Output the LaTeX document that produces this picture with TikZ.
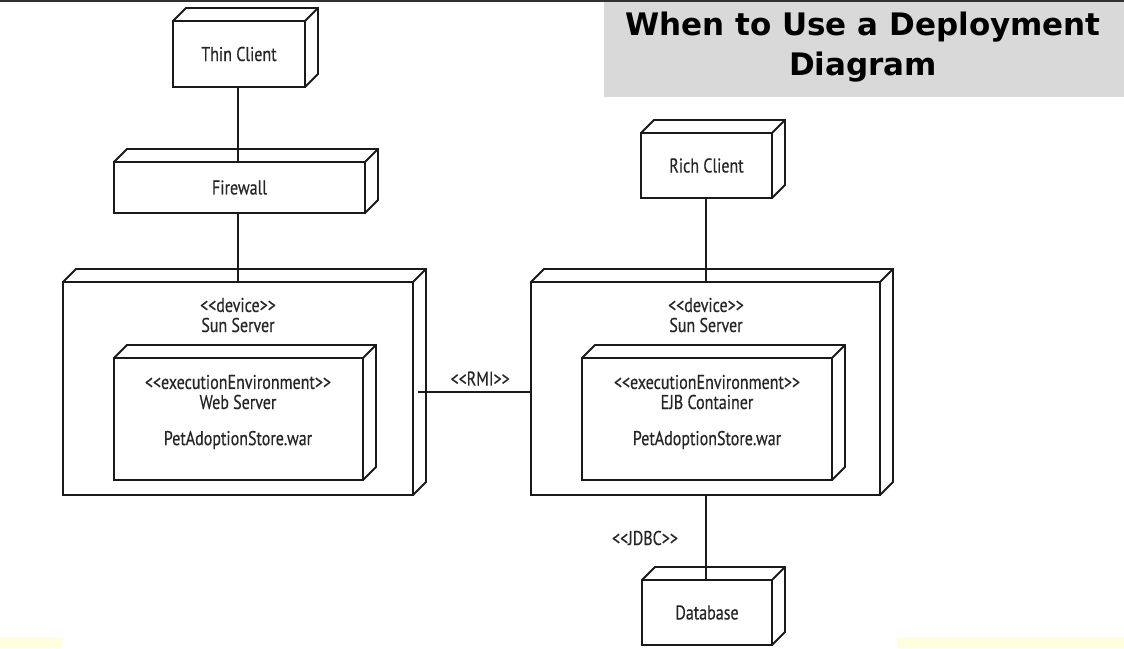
\documentclass[tikz,border=0pt]{standalone}
\usepackage{fontspec}
\usetikzlibrary{calc}
\newfontfamily\diagfont[FakeStretch=0.8,FakeBold=0.4]{PT Sans}
\newfontfamily\titlefont{DejaVu Sans}
\definecolor{ink}{HTML}{1A1A1A}
\definecolor{txt}{HTML}{262626}
\definecolor{titlegray}{HTML}{D9D9D9}
\definecolor{slideyellow}{HTML}{FFFFDC}
\begin{document}
\begin{tikzpicture}[x=1pt,y=-1pt,
  box/.style={draw=ink, line width=1.8pt, rectangle, inner sep=0pt, outer sep=0pt},
  boxline/.style={draw=ink, line width=1.8pt, line join=miter},
  conn/.style={draw=ink, line width=2.8pt},
  lbl/.style={font=\diagfont\fontsize{20}{20}\selectfont, text=txt, inner sep=0pt, align=center}]
\useasboundingbox (0,0) rectangle (1124,648);
% slide background pieces
\fill[slideyellow] (0,637) rectangle (62,648);
\fill[slideyellow] (897,637) rectangle (1124,648);
\fill[ink!90] (0,0) rectangle (1124,1.6);
% title
\fill[titlegray] (604,1.6) rectangle (1124,97);
\node[font=\titlefont\bfseries\fontsize{31}{40}\selectfont, align=center, inner sep=0pt] (title) at (863,47) {When to Use a Deployment\\Diagram};
% nodes
\node[box, minimum width=132pt, minimum height=66pt] (thin) at (239,54) {};
\node[box, minimum width=251pt, minimum height=51pt] (fw) at (239.5,187.5) {};
\node[box, minimum width=350pt, minimum height=213pt] (ls) at (238,388.5) {};
\node[box, minimum width=249pt, minimum height=122pt] (web) at (238.5,419) {};
\node[box, minimum width=349pt, minimum height=213pt] (rs) at (705.5,388.5) {};
\node[box, minimum width=250pt, minimum height=122pt] (ejb) at (707,419) {};
\node[box, minimum width=131pt, minimum height=65pt] (rich) at (706.5,165.5) {};
\node[box, minimum width=130pt, minimum height=65pt] (db) at (707,612.5) {};
\foreach \n in {thin,fw,ls,web,rs,ejb,rich,db}{
  \draw[boxline] (\n.north west) -- ++(13,-13) -- ($(\n.north east)+(13,-13)$) -- ($(\n.south east)+(13,-13)$) -- (\n.south east)
    (\n.north east) -- ++(13,-13);
}
% texts
\node[lbl] (thintxt) at (thin) {Thin Client};
\node[lbl] (fwtxt) at (fw) {Firewall};
\node[lbl] (richtxt) at (rich) {Rich Client};
\node[lbl] (dbtxt) at (db) {Database};
\node[lbl] (lsdev) at (238,305) {{<}{<}device{>}{>}};
\node[lbl] (lsname) at (238,325) {Sun Server};
\node[lbl] (webst) at (238,382) {{<}{<}executionEnvironment{>}{>}};
\node[lbl] (webname) at (238,402) {Web Server};
\node[lbl] (webwar) at (238,440) {PetAdoptionStore.war};
\node[lbl] (rsdev) at (706,305) {{<}{<}device{>}{>}};
\node[lbl] (rsname) at (706,325) {Sun Server};
\node[lbl] (ejbst) at (707,382) {{<}{<}executionEnvironment{>}{>}};
\node[lbl] (ejbname) at (707,402) {EJB Container};
\node[lbl] (ejbwar) at (707,440) {PetAdoptionStore.war};
% connectors
\draw[conn] (thin.south -| 238,0) -- (fw.north -| 238,0);
\draw[conn] (fw.south -| 238,0) -- (ls.north -| 238,0);
\draw[conn] (rich.south -| 706,0) -- (rs.north -| 706,0);
\draw[conn] (rs.south -| 706,0) -- (db.north -| 706,0);
\draw[conn] ([xshift=5pt,yshift=-3.5pt]ls.east) -- ([yshift=-3.5pt]rs.west)
  node[lbl, pos=0.55, above=5pt] (rmi) {{<}{<}RMI{>}{>}};
\node[lbl] (jdbc) at (645,538) {{<}{<}JDBC{>}{>}};
\end{tikzpicture}
\end{document}
